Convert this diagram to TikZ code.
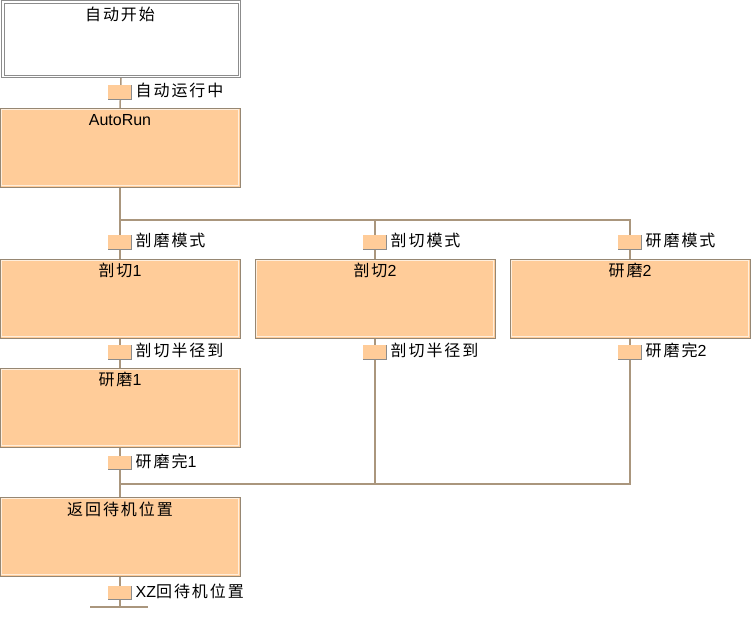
\documentclass[tikz,border=0pt]{standalone}
\usepackage{fontspec}
\setmainfont{Liberation Sans}
\newfontfamily\cjk[LetterSpace=12]{Noto Sans CJK SC}
\usetikzlibrary{backgrounds}
\definecolor{boxfill}{RGB}{255,204,153}
\definecolor{boxedge}{RGB}{150,135,115}
\definecolor{boxlight}{RGB}{255,238,220}
\definecolor{wirecol}{RGB}{170,150,125}
\definecolor{markedge}{RGB}{140,140,140}
\tikzset{
  stepbox/.style={draw=boxedge, fill=boxfill, line width=1pt, minimum width=240pt,
    minimum height=79pt, inner sep=0pt, outer sep=0pt, anchor=north west},
  trans/.style={fill=boxfill, minimum width=23pt, minimum height=14pt, inner sep=0pt, outer sep=0pt},
  tlabel/.style={anchor=west, inner sep=0pt, font=\fontsize{16}{17}\selectfont},
  titletext/.style={inner sep=0pt, font=\fontsize{16}{17}\selectfont},
  wire/.style={draw=wirecol, line width=1.5pt},
}
\newcommand{\innerlight}[1]{\draw[boxlight, line width=1pt] ([shift={(1.5pt,-1.5pt)}]#1.north west) rectangle ([shift={(-1.5pt,1.5pt)}]#1.south east);}
\newcommand{\transedge}[1]{\draw[markedge, line width=1pt] (#1.south west) -- (#1.south east) -- (#1.north east);}
\begin{document}
\begin{tikzpicture}[x=1pt,y=-1pt]
\useasboundingbox (0,0) rectangle (755,635);
% start box
\node[draw=markedge, line width=1pt, minimum width=239pt, minimum height=77pt, inner sep=0pt, anchor=north west] (start) at (1,0) {};
\draw[markedge, line width=1pt] ([shift={(3pt,-3pt)}]start.north west) rectangle ([shift={(-3pt,3pt)}]start.south east);
\node[titletext] (startT) at (120,14) {\cjk 自动开始};
% step boxes
\node[stepbox] (run) at (0,108) {};
\node[stepbox] (c1) at (0,259) {};
\node[stepbox] (c2) at (255,259) {};
\node[stepbox] (g2) at (510,259) {};
\node[stepbox] (g1) at (0,368) {};
\node[stepbox] (ret) at (0,497) {};
\innerlight{run}\innerlight{c1}\innerlight{c2}\innerlight{g2}\innerlight{g1}\innerlight{ret}
\node[titletext] (runT) at ([yshift=-12.5pt]run.north) {AutoRun};
\node[titletext] (c1T) at ([yshift=-11pt]c1.north) {{\cjk 剖切}1};
\node[titletext] (c2T) at ([yshift=-11pt]c2.north) {{\cjk 剖切}2};
\node[titletext] (g2T) at ([yshift=-11pt]g2.north) {{\cjk 研磨}2};
\node[titletext] (g1T) at ([yshift=-11pt]g1.north) {{\cjk 研磨}1};
\node[titletext] (retT) at ([yshift=-12pt]ret.north) {\cjk 返回待机位置};
% bus coordinates
\coordinate (bus1L) at (120,220);
\coordinate (bus1R) at (630,220);
\coordinate (bus2L) at (120,484);
\coordinate (bus2R) at (630,484);
\coordinate (endC) at (120,607);
\coordinate (endL) at (90,607);
\coordinate (endR) at (148,607);
% transitions
\node[trans] (t0) at (119.5,92) {};
\node[trans] (t1) at (119.5,242) {};
\node[trans] (t2) at (374.5,242) {};
\node[trans] (t3) at (629.5,242) {};
\node[trans] (t4) at (119.5,352) {};
\node[trans] (t5) at (374.5,352) {};
\node[trans] (t6) at (629.5,352) {};
\node[trans] (t7) at (119.5,462.5) {};
\node[trans] (t8) at (119.5,592.5) {};
\transedge{t0}\transedge{t1}\transedge{t2}\transedge{t3}\transedge{t4}\transedge{t5}\transedge{t6}\transedge{t7}\transedge{t8}
\node[tlabel] (l0) at ([xshift=4.5pt,yshift=1.5pt]t0.east) {\cjk 自动运行中};
\node[tlabel] (l1) at ([xshift=4.5pt,yshift=1.5pt]t1.east) {\cjk 剖磨模式};
\node[tlabel] (l2) at ([xshift=4.5pt,yshift=1.5pt]t2.east) {\cjk 剖切模式};
\node[tlabel] (l3) at ([xshift=4.5pt,yshift=1.5pt]t3.east) {\cjk 研磨模式};
\node[tlabel] (l4) at ([xshift=4.5pt,yshift=1.5pt]t4.east) {\cjk 剖切半径到};
\node[tlabel] (l5) at ([xshift=4.5pt,yshift=1.5pt]t5.east) {\cjk 剖切半径到};
\node[tlabel] (l6) at ([xshift=4.5pt,yshift=1.5pt]t6.east) {{\cjk 研磨完}2};
\node[tlabel] (l7) at ([xshift=4.5pt,yshift=1.5pt]t7.east) {{\cjk 研磨完}1};
\node[tlabel] (l8) at ([xshift=4.5pt,yshift=1.5pt]t8.east) {XZ{\cjk 回待机位置}};
% connectors
\begin{scope}[on background layer]
\draw[wire] (start.south) -- (run.north);
\draw[wire] (run.south) -- (bus1L) -- (bus1R) -- (g2.north);
\draw[wire] (bus1L) -- (c1.north);
\draw[wire] (c2.north |- bus1L) -- (c2.north);
\draw[wire] (c1.south) -- (g1.north);
\draw[wire] (g1.south) -- (ret.north);
\draw[wire] (c2.south) -- (c2.south |- bus2L);
\draw[wire] (g2.south) -- (bus2R) -- (bus2L);
\draw[wire] (ret.south) -- (endC);
\draw[wire] (endL) -- (endR);
\end{scope}
\end{tikzpicture}
\end{document}
